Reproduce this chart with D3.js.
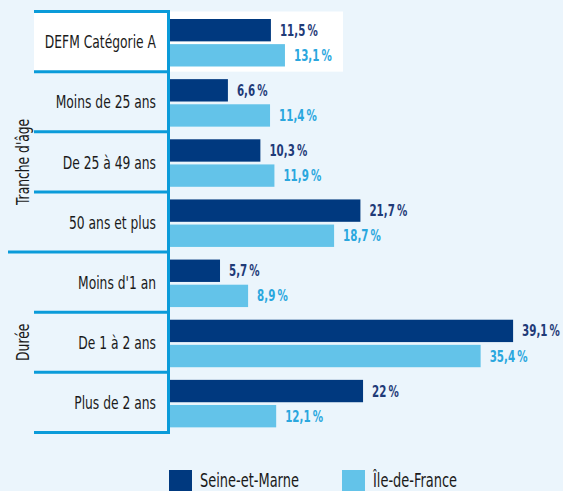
<!DOCTYPE html>
<html><head><meta charset="utf-8">
<script src="https://cdn.jsdelivr.net/npm/d3@7"></script>
<style>
html,body{margin:0;padding:0;background:#ebf5fc;}
svg{display:block;}
</style></head>
<body>
<script>
const categories = ["DEFM Catégorie A","Moins de 25 ans","De 25 à 49 ans","50 ans et plus","Moins d'1 an","De 1 à 2 ans","Plus de 2 ans"];
const seineEtMarne = [11.5, 6.6, 10.3, 21.7, 5.7, 39.1, 22];
const ileDeFrance = [13.1, 11.4, 11.9, 18.7, 8.9, 35.4, 12.1];
const seriesNames = ["Seine-et-Marne","Île-de-France"];
const groups = [{name:"Tranche d'âge", from:1, to:3},{name:"Durée", from:4, to:6}];

const W=563,H=491;
const colDark="#00397f", colLight="#63c3e9", colAxis="#0a9bd9";
const labDark="#1f3b78", labLight="#2aa7de";
const font="'DejaVu Sans Condensed','DejaVu Sans',sans-serif";
const SX=0.74;

const svg=d3.select("body").append("svg").attr("width",W).attr("height",H);
svg.append("rect").attr("width",W).attr("height",H).attr("fill","#ebf5fc");

const y=d3.scaleBand().domain(categories).range([11.5,432.5]).padding(0);
const x=d3.scaleLinear().domain([0,40]).range([170,521]);
const ySub=d3.scaleBand().domain([0,1]).range([7.5,55]).paddingInner(0.11);

// white highlight box for first row
svg.append("rect").attr("x",34).attr("y",y(categories[0])).attr("width",343-34)
  .attr("height",y.bandwidth()).attr("fill","#ffffff");

const data=categories.map((c,i)=>({c,v:[seineEtMarne[i],ileDeFrance[i]]}));

const rows=svg.append("g").selectAll("g").data(data).join("g")
  .attr("transform",d=>`translate(0,${y(d.c)})`);

rows.selectAll("rect.bar").data(d=>d.v).join("rect").attr("class","bar")
  .attr("x",x(0)).attr("y",(v,j)=>ySub(j)).attr("width",v=>x(v)-x(0))
  .attr("height",ySub.bandwidth()).attr("fill",(v,j)=>j===0?colDark:colLight);

const fmt=v=>String(v).replace(".",",")+"\u2009%";
rows.selectAll("text.val").data(d=>d.v).join("text").attr("class","val")
  .attr("transform",(v,j)=>`translate(${x(v)+9},${ySub(j)+ySub.bandwidth()/2}) scale(${SX},1)`)
  .attr("dy","0.36em").attr("font-family",font).attr("font-weight","bold")
  .attr("font-size",15.5).attr("fill",(v,j)=>j===0?labDark:labLight).text(fmt);

// category labels
rows.append("text").attr("transform",`translate(156,${y.bandwidth()/2}) scale(${SX},1)`).attr("dy","0.36em")
  .attr("text-anchor","end").attr("font-family",font).attr("font-size",18.5)
  .attr("fill","#1a1a1a").text(d=>d.c);

// separator lines
const bounds=categories.map(c=>y(c)).concat([y.range()[1]]);
svg.append("g").selectAll("line").data(bounds).join("line")
  .attr("x1",(b,i)=>i===4?8:34).attr("x2",168.5).attr("y1",b=>b).attr("y2",b=>b)
  .attr("stroke",colAxis).attr("stroke-width",3);

// vertical axis line
svg.append("line").attr("x1",168.5).attr("x2",168.5).attr("y1",10).attr("y2",434)
  .attr("stroke",colAxis).attr("stroke-width",3);

// group labels
svg.append("g").selectAll("text").data(groups).join("text")
  .attr("transform",g=>{const cy=(y(categories[g.from])+y(categories[g.to])+y.bandwidth())/2;return `translate(29,${cy}) rotate(-90) scale(${SX},1)`;})
  .attr("text-anchor","middle").attr("font-family",font).attr("font-size",18.5)
  .attr("fill","#1a1a1a").text(g=>g.name);

// legend
const legX=[169,342];
const leg=svg.append("g").selectAll("g").data(seriesNames).join("g")
  .attr("transform",(d,i)=>`translate(${legX[i]},470)`);
leg.append("rect").attr("width",23).attr("height",23).attr("fill",(d,i)=>i===0?colDark:colLight);
leg.append("text").attr("transform",`translate(31,17) scale(${SX},1)`).attr("font-family",font).attr("font-size",19.5)
  .attr("fill","#1a1a1a").text(d=>d);
</script>
</body></html>
